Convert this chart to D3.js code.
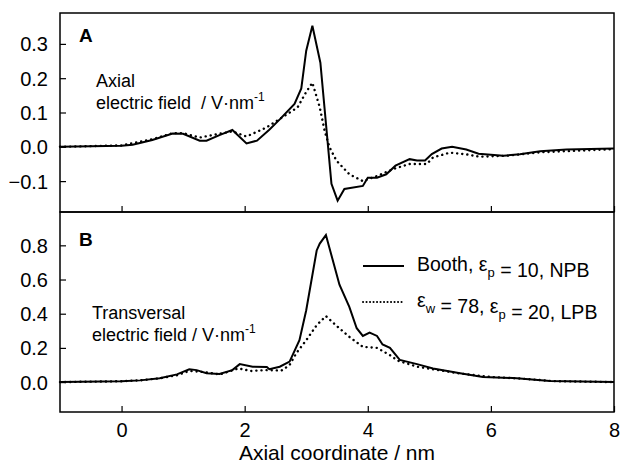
<!DOCTYPE html>
<html>
<head>
<meta charset="utf-8">
<script src="https://cdn.jsdelivr.net/npm/d3@7"></script>
<style>
  body { margin: 0; background: #fff; }
  text { font-family: "Liberation Sans", Arial, sans-serif; fill: #000; }
</style>
</head>
<body>
<div id="chart"></div>
<script>
// panel A: axial field, Booth model (solid)
const axialBoothX = [-1, 0, 0.18, 0.5, 0.83, 1.0, 1.27, 1.38, 1.6, 1.8, 2.03, 2.2, 2.4, 2.57, 2.81, 2.92, 3.0, 3.1, 3.23, 3.41, 3.51, 3.62, 3.92, 4.0, 4.15, 4.3, 4.45, 4.68, 4.8, 4.93, 5.04, 5.2, 5.37, 5.6, 5.8, 6.2, 6.47, 6.8, 7.23, 8];
const axialBoothY = [0.0, 0.003, 0.006, 0.02, 0.039, 0.038, 0.018, 0.018, 0.035, 0.049, 0.01, 0.018, 0.05, 0.08, 0.125, 0.17, 0.28, 0.353, 0.245, -0.108, -0.157, -0.123, -0.114, -0.09, -0.09, -0.08, -0.055, -0.036, -0.04, -0.04, -0.021, -0.005, 0.0, -0.008, -0.02, -0.026, -0.022, -0.013, -0.008, -0.005];
// panel A: axial field, LPB (dotted)
const axialLpbX = [-1, 0, 0.5, 0.83, 1.0, 1.27, 1.5, 1.8, 2.03, 2.35, 2.62, 2.86, 3.0, 3.1, 3.22, 3.3, 3.38, 3.49, 3.7, 3.92, 4.15, 4.41, 4.68, 4.96, 5.06, 5.33, 5.6, 5.82, 6.26, 6.8, 8];
const axialLpbY = [0.0, 0.004, 0.022, 0.04, 0.04, 0.027, 0.035, 0.045, 0.03, 0.056, 0.087, 0.115, 0.16, 0.187, 0.115, 0.046, -0.002, -0.04, -0.08, -0.1, -0.085, -0.065, -0.05, -0.05, -0.031, -0.017, -0.022, -0.029, -0.026, -0.016, -0.007];
// panel B: transversal field, Booth model (solid)
const transBoothX = [-1, 0, 0.3, 0.62, 0.9, 1.1, 1.22, 1.38, 1.59, 1.8, 1.92, 2.13, 2.36, 2.4, 2.57, 2.73, 2.89, 3.0, 3.17, 3.22, 3.32, 3.54, 3.7, 3.82, 3.92, 4.03, 4.15, 4.24, 4.36, 4.52, 4.8, 5.06, 5.5, 5.87, 6.42, 6.96, 8];
const transBoothY = [0.0, 0.005, 0.01, 0.023, 0.045, 0.075, 0.07, 0.052, 0.047, 0.07, 0.105, 0.09, 0.088, 0.075, 0.09, 0.12, 0.245, 0.42, 0.77, 0.81, 0.86, 0.57, 0.44, 0.315, 0.27, 0.29, 0.27, 0.22, 0.2, 0.13, 0.105, 0.08, 0.052, 0.03, 0.023, 0.006, 0.0];
// panel B: transversal field, LPB (dotted)
const transLpbX = [-1, 0, 0.3, 0.62, 0.9, 1.1, 1.3, 1.6, 1.9, 2.1, 2.35, 2.6, 2.73, 2.84, 3.0, 3.17, 3.32, 3.49, 3.7, 3.92, 4.15, 4.36, 4.49, 4.8, 5.06, 5.5, 6.0, 6.5, 7.0, 8];
const transLpbY = [0.0, 0.005, 0.01, 0.022, 0.04, 0.065, 0.06, 0.045, 0.08, 0.065, 0.07, 0.068, 0.1, 0.17, 0.245, 0.333, 0.386, 0.33, 0.265, 0.206, 0.2, 0.158, 0.125, 0.09, 0.075, 0.05, 0.03, 0.02, 0.006, 0.0];

const xTicks = [0, 2, 4, 6, 8];
const yTicksA = [-0.1, 0.0, 0.1, 0.2, 0.3];
const yTicksB = [0.0, 0.2, 0.4, 0.6, 0.8];
const legendLabels = ["Booth, ε_p = 10, NPB", "ε_w = 78, ε_p = 20, LPB"];

const width = 620, height = 466;
const left = 60, right = 614;

const svg = d3.select("#chart").append("svg")
  .attr("width", width).attr("height", height);

const x = d3.scaleLinear().domain([-1, 8]).range([left, right]);

const panels = [
  { top: 13, bottom: 212, domain: [-0.19, 0.39], ticks: yTicksA,
    solid: [axialBoothX, axialBoothY], dotted: [axialLpbX, axialLpbY] },
  { top: 212, bottom: 412, domain: [-0.175, 0.995], ticks: yTicksB,
    solid: [transBoothX, transBoothY], dotted: [transLpbX, transLpbY] }
];

panels.forEach(function(p, i) {
  const y = d3.scaleLinear().domain(p.domain).range([p.bottom, p.top]);
  const g = svg.append("g");

  // y axis, ticks inward
  const ya = g.append("g").attr("transform", "translate(" + left + ",0)")
    .call(d3.axisRight(y).tickValues(p.ticks).tickSize(6).tickFormat(d3.format(".1f")));
  ya.select(".domain").remove();
  ya.selectAll("line").attr("stroke", "#000").attr("stroke-width", 1.2);
  ya.selectAll("text").attr("x", -12).attr("text-anchor", "end")
    .style("font-size", "20px").attr("dy", "0.35em");

  // x ticks pointing up from the bottom edge
  const xa = g.append("g").attr("transform", "translate(0," + p.bottom + ")")
    .call(d3.axisTop(x).tickValues(xTicks).tickSize(6).tickFormat(i === 1 ? d3.format("d") : ""));
  xa.select(".domain").remove();
  xa.selectAll("line").attr("stroke", "#000").attr("stroke-width", 1.2);
  xa.selectAll("text").attr("y", 18).attr("dy", "0.35em")
    .style("font-size", "20px").attr("text-anchor", "middle");

  // frame
  g.append("rect").attr("x", left).attr("y", p.top)
    .attr("width", right - left).attr("height", p.bottom - p.top)
    .attr("fill", "none").attr("stroke", "#000").attr("stroke-width", 1.5);

  const line = d3.line().x(d => x(d[0])).y(d => y(d[1]));
  const solidPts = p.solid[0].map((v, k) => [v, p.solid[1][k]]);
  const dottedPts = p.dotted[0].map((v, k) => [v, p.dotted[1][k]]);

  g.append("path").datum(dottedPts).attr("d", line)
    .attr("fill", "none").attr("stroke", "#000").attr("stroke-width", 2.4)
    .attr("stroke-dasharray", "0.1,5").attr("stroke-linecap", "round");
  g.append("path").datum(solidPts).attr("d", line)
    .attr("fill", "none").attr("stroke", "#000").attr("stroke-width", 2);
});

// panel letters
svg.append("text").attr("x", 79).attr("y", 42).text("A")
  .style("font-size", "19px").style("font-weight", "bold");
svg.append("text").attr("x", 79).attr("y", 246).text("B")
  .style("font-size", "19px").style("font-weight", "bold");

// field annotations
function fieldLabel(xp, yp, first, gap) {
  svg.append("text").attr("x", xp).attr("y", yp).style("font-size", "18px").text(first);
  const t2 = svg.append("text").attr("x", xp).attr("y", yp + 22).style("font-size", "18px");
  t2.append("tspan").text("electric field" + gap + "/ V·nm");
  t2.append("tspan").attr("dy", -8).style("font-size", "12px").text("-1");
}
fieldLabel(96, 87, "Axial", "\u00a0\u00a0");
fieldLabel(92, 319, "Transversal", " ");

// legend
const legendY = [266, 302];
legendLabels.forEach(function(lab, k) {
  svg.append("line").attr("x1", 363).attr("x2", 404)
    .attr("y1", legendY[k]).attr("y2", legendY[k])
    .attr("stroke", "#000").attr("stroke-width", 2)
    .attr("stroke-dasharray", k === 0 ? null : "0.1,3.4")
    .attr("stroke-linecap", k === 0 ? "butt" : "round");
  const t = svg.append("text").attr("x", 417).attr("y", legendY[k] + 5).style("font-size", "19.5px");
  lab.split(/(ε_[a-z])/).forEach(function(part) {
    if (part.startsWith("ε_")) {
      t.append("tspan").text("ε");
      t.append("tspan").attr("dy", 6).style("font-size", "13px").text(part.slice(2));
      t.append("tspan").attr("dy", -6).text("");
    } else if (part.length) {
      t.append("tspan").text(part);
    }
  });
});

// x axis title
svg.append("text").attr("x", 337).attr("y", 460).attr("text-anchor", "middle")
  .style("font-size", "21px").text("Axial coordinate / nm");
</script>
</body>
</html>
